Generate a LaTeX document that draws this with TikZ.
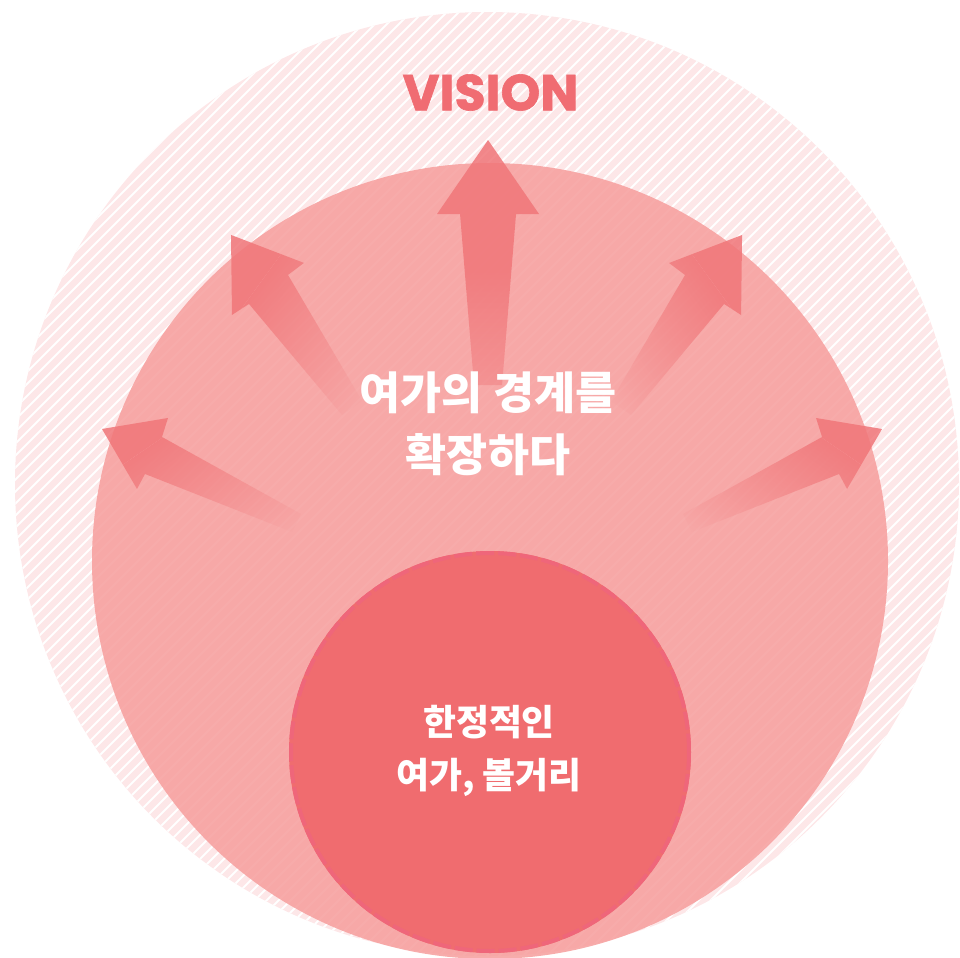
\documentclass[tikz,border=0pt]{standalone}
\usepackage{fontspec}
\usetikzlibrary{fadings}
\newfontfamily\krfont{Noto Sans CJK KR}
\newfontfamily\visfont{Poppins}[BoldFeatures={FakeBold=1.2}]
\definecolor{outerc}{RGB}{253,231,232}
\definecolor{midc}{RGB}{246,157,156}
\definecolor{innerc}{RGB}{240,108,111}
\definecolor{innerb}{RGB}{239,102,122}
\definecolor{arrowc}{RGB}{240,118,121}
\definecolor{visc}{RGB}{240,108,114}
\begin{tikzfadingfrompicture}[name=fadeV]
  \fill[transparent!100] (-120bp,-120bp) rectangle (120bp,-48bp);
  \shade[bottom color=transparent!100, top color=transparent!0] (-120bp,-48bp) rectangle (120bp,-2bp);
  \fill[transparent!0] (-120bp,-2bp) rectangle (120bp,120bp);
\end{tikzfadingfrompicture}
\begin{tikzfadingfrompicture}[name=fadeD]
  \fill[transparent!100] (-120bp,-120bp) rectangle (120bp,-34bp);
  \shade[bottom color=transparent!100, top color=transparent!0] (-120bp,-34bp) rectangle (120bp,18bp);
  \fill[transparent!0] (-120bp,18bp) rectangle (120bp,120bp);
\end{tikzfadingfrompicture}
\tikzset{
  arrowshape/.style={fill=arrowc, fill opacity=0.85},
  hatchline/.style={draw=white, line width=1.9*0.02cm},
  ringline/.style={draw=innerb, line width=4*0.02cm, dash pattern=on 18*0.02cm off 4*0.02cm},
  bigtext/.style={text=white, align=center, font=\krfont\bfseries\fontsize{25.4}{35}\selectfont},
  smalltext/.style={text=white, align=center, font=\krfont\bfseries\fontsize{20.4}{30}\selectfont},
  vistext/.style={text=visc, font=\visfont\bfseries\fontsize{28.8}{30}\selectfont},
}
\begin{document}
\begin{tikzpicture}[x=0.02cm, y=-0.02cm]
\useasboundingbox (0,0) rectangle (960,957);
\clip (0,0) rectangle (960,957);
% outer hatched circle
\coordinate (oc) at (487,484);
\fill[outerc] (oc) circle (472);
\begin{scope}
  \clip (oc) circle (472);
  \foreach \a in {-1000,-988,...,980} {
    \draw[hatchline] (\a,967) -- ++(977,-977);
  }
\end{scope}
% middle circle
\coordinate (mc) at (490,561);
\fill[midc, fill opacity=0.85] (mc) circle (398);
% arrows
\fill[arrowshape, path fading=fadeV]
  (488,140) -- (539,214) -- (516,214) -- (502,385) -- (474,385) -- (460,214) -- (437,214) -- cycle;
\fill[arrowshape, path fading=fadeD, fading angle=45]
  (231,235) -- (304,263) -- (288,275) -- (362,401) -- (342,415) -- (249,304) -- (232,315) -- cycle;
\fill[arrowshape, path fading=fadeD, fading angle=-45]
  (742,235) -- (669,263) -- (685,275) -- (611,401) -- (631,415) -- (724,304) -- (741,315) -- cycle;
\fill[arrowshape, path fading=fadeD, fading angle=50]
  (102,429) -- (168,418) -- (162,437) -- (301,514) -- (292,532) -- (145,474) -- (137,489) -- cycle;
\fill[arrowshape, path fading=fadeD, fading angle=-50]
  (882,429) -- (816,418) -- (822,437) -- (683,514) -- (692,532) -- (839,474) -- (847,489) -- cycle;
% inner circle
\node[circle, minimum size=402*0.02cm, inner sep=0pt, fill=innerc] (inner) at (490,752) {};
\draw[ringline] (inner.center) circle (199);
% texts
\node[vistext] (vision) at (490.5,92.5) {VISION};
\node[bigtext] (expand) at (488,424) {여가의 경계를\\확장하다};
\node[smalltext] (limited) at (489,751) {한정적인\\여가, 볼거리};
\end{tikzpicture}
\end{document}
